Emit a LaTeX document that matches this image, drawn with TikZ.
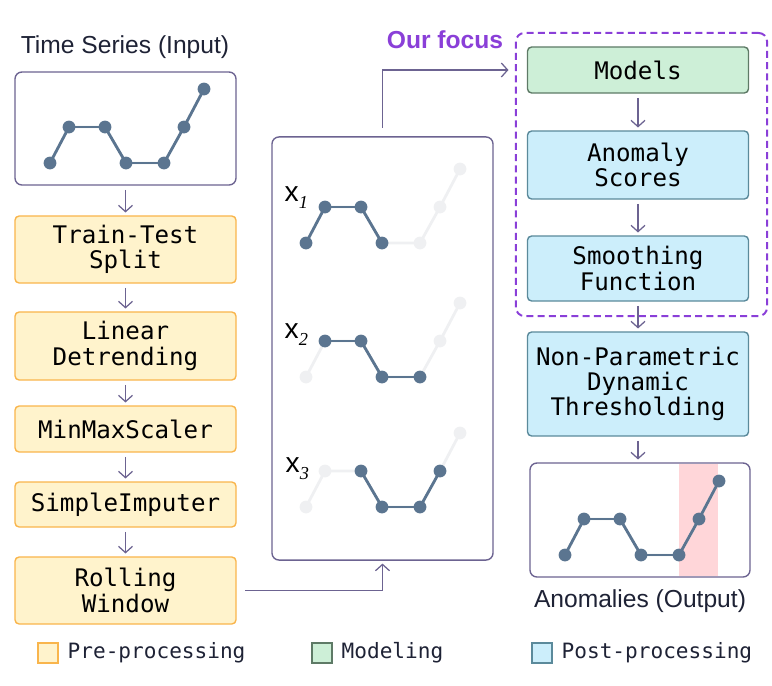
\documentclass[tikz,border=0pt]{standalone}
\usepackage{fontspec}
\setmainfont{Liberation Sans}
\newfontfamily\codice{DejaVu Sans Mono}
\newfontfamily\grazie{Liberation Serif}
\usetikzlibrary{positioning,arrows.meta}
\definecolor{giallo}{HTML}{FFF3CC}
\definecolor{arancio}{HTML}{F9B54C}
\definecolor{verde}{HTML}{CDEFD7}
\definecolor{verdescuro}{HTML}{5E7A66}
\definecolor{azzurro}{HTML}{CCEEFB}
\definecolor{bluscuro}{HTML}{5B8A9B}
\definecolor{lavagna}{HTML}{6C6391}
\definecolor{porpora}{HTML}{8A3FD8}
\definecolor{scuro}{HTML}{5B7590}
\definecolor{chiaro}{HTML}{EFF0F2}
\definecolor{rosa}{HTML}{FFD6D9}
\definecolor{testo}{HTML}{1E2235}
\tikzset{
  fase/.style={rounded corners=3pt, line width=1pt, align=center, minimum width=5.525cm,
    inner sep=2pt, font=\codice\fontsize{17.2}{18}\selectfont},
  pre/.style={fase, draw=arancio, fill=giallo},
  mod/.style={fase, draw=verdescuro, fill=verde},
  post/.style={fase, draw=bluscuro, fill=azzurro},
  riquadro/.style={draw=lavagna, rounded corners=5pt, line width=1pt, minimum width=5.525cm},
  freccia/.style={draw=lavagna, line width=0.9pt, -{Straight Barb[length=4.5pt,width=10pt]},
    shorten <=3pt, shorten >=2pt},
  titolo/.style={font=\fontsize{17.5}{20}\selectfont, text=testo},
  quadrato/.style={minimum width=0.5cm, minimum height=0.5cm, line width=1pt, inner sep=0pt},
  legenda/.style={font=\codice\fontsize{15}{16}\selectfont, text=testo},
  etx/.style={anchor=base west, font=\fontsize{20}{22}\selectfont, inner sep=1pt},
  lineachiara/.style={draw=chiaro, line width=2pt},
  lineascura/.style={draw=scuro, line width=2pt}
}
% pedice in corsivo con grazie
\newcommand{\ped}[1]{\raisebox{-5pt}{\grazie\itshape\fontsize{13}{14}\selectfont #1}}
% serie: origine x, origine y, primo e ultimo punto scuro
\newcommand{\serie}[4]{%
  \begin{scope}[shift={(#1,#2)}]
    \foreach \i/\px/\py in {1/0/0,2/19/-36,3/55/-36,4/76/0,5/114/0,6/134/-36,7/154/-74}
      \coordinate (q\i) at (\px,\py);
    \draw[lineachiara] (q1) -- (q2) -- (q3) -- (q4) -- (q5) -- (q6) -- (q7);
    \pgfmathtruncatemacro\ultimo{#4-1}
    \foreach \i [evaluate=\i as \j using int(\i+1)] in {#3,...,\ultimo}
      \draw[lineascura] (q\i) -- (q\j);
    \foreach \i in {1,...,7}{
      \ifnum\i<#3 \fill[chiaro] (q\i) circle[radius=0.16cm];
      \else\ifnum\i>#4 \fill[chiaro] (q\i) circle[radius=0.16cm];
      \else \fill[scuro] (q\i) circle[radius=0.16cm];\fi\fi}
  \end{scope}}
\begin{document}
\begin{tikzpicture}[x=0.025cm, y=-0.025cm]
  \useasboundingbox (0,0) rectangle (772,686);
  % colonna di sinistra
  \node[titolo] (tin) at (125,47) {Time Series (Input)};
  \node[riquadro, minimum height=2.825cm] (ingresso) at (125.5,128.5) {};
  \node[pre, minimum height=1.675cm] (split) at (125.5,249.5) {Train-Test\\Split};
  \node[pre, minimum height=1.7cm] (detrend) at (125.5,346) {Linear\\Detrending};
  \node[pre, minimum height=1.15cm] (scaler) at (125.5,429) {MinMaxScaler};
  \node[pre, minimum height=1.125cm] (imputer) at (125.5,504.5) {SimpleImputer};
  \node[pre, minimum height=1.675cm] (rolling) at (125.5,590.5) {Rolling\\Window};
  \serie{50}{163}{1}{7}
  % finestre x1, x2, x3
  \node[riquadro, minimum height=10.575cm] (finestre) at (382.5,348.5) {};
  \node[etx] (x1) at (283,201) {x\ped{1}};
  \node[etx] (x2) at (283,338) {x\ped{2}};
  \node[etx] (x3) at (284,472) {x\ped{3}};
  \serie{306}{243}{1}{4}
  \serie{306}{377}{2}{5}
  \serie{306}{507}{3}{6}
  % colonna di destra
  \node[draw=porpora, line width=1.4pt, dash pattern=on 5pt off 3pt, rounded corners=6pt,
    minimum width=6.275cm, minimum height=7.075cm] (focus) at (641.5,174.5) {};
  \node[font=\bfseries\fontsize{17.5}{20}\selectfont, text=porpora] (etfocus) at (445,40) {Our focus};
  \node[mod, minimum height=1.15cm] (modelli) at (638,70) {Models};
  \node[post, minimum height=1.7cm] (punteggi) at (638,165) {Anomaly\\Scores};
  \node[post, minimum height=1.625cm] (smooth) at (638,268.5) {Smoothing\\Function};
  \node[post, minimum height=2.6cm] (soglia) at (638,384) {Non-Parametric\\Dynamic\\Thresholding};
  \fill[rosa] (679,464) rectangle (718,576);
  \node[riquadro, minimum width=5.5cm, minimum height=2.85cm] (uscita) at (640,520) {};
  \serie{565}{555}{1}{7}
  \node[titolo] (tout) at (640,601) {Anomalies (Output)};
  % frecce
  \foreach \a/\b in {ingresso/split, split/detrend, detrend/scaler, scaler/imputer, imputer/rolling,
      modelli/punteggi, punteggi/smooth, smooth/soglia, soglia/uscita}
    \draw[freccia] (\a.south) -- (\a.south |- \b.north);
  \draw[freccia, shorten <=6pt] (rolling.east) -| (finestre.south);
  \draw[freccia, shorten <=6pt, shorten >=13pt] (finestre.north) |- (modelli.west);
  % legenda
  \node[quadrato, draw=arancio, fill=giallo] (lpre) at (48,653) {};
  \node[legenda, right=0.1cm of lpre] (tpre) {Pre-processing};
  \node[quadrato, draw=verdescuro, fill=verde] (lmod) at (322,653) {};
  \node[legenda, right=0.1cm of lmod] (tmod) {Modeling};
  \node[quadrato, draw=bluscuro, fill=azzurro] (lpost) at (542,653) {};
  \node[legenda, right=0.1cm of lpost] (tpost) {Post-processing};
\end{tikzpicture}
\end{document}
